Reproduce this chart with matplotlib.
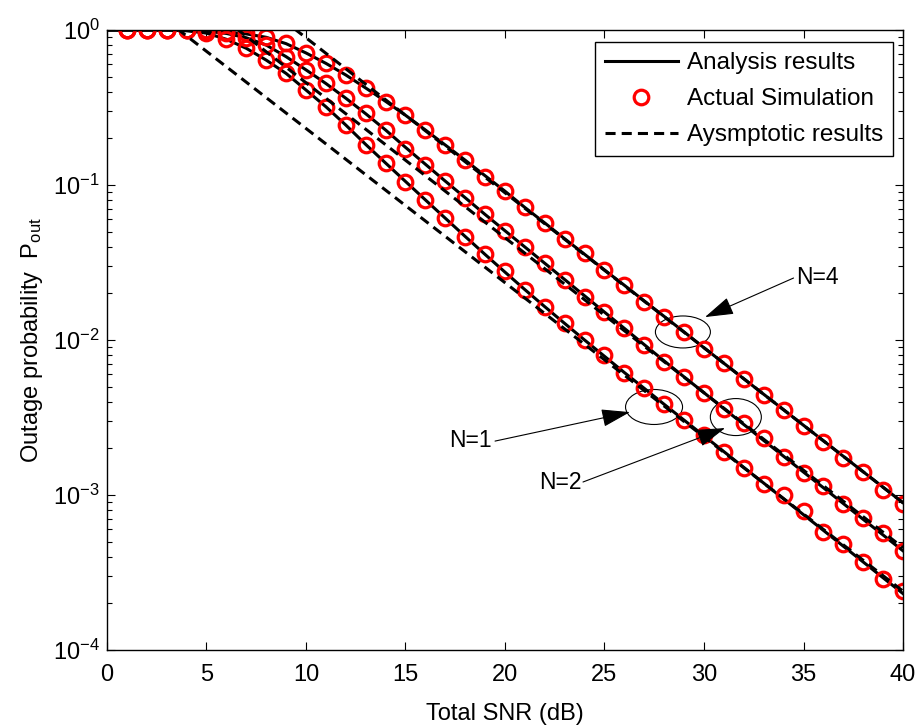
import numpy as np
import matplotlib
matplotlib.use("Agg")
import matplotlib.pyplot as plt
from matplotlib.patches import Ellipse
from matplotlib.transforms import ScaledTranslation

plt.rcParams["font.family"] = ["Liberation Sans", "DejaVu Sans"]
plt.rcParams["mathtext.fontset"] = "custom"
plt.rcParams["mathtext.rm"] = "Liberation Sans"
plt.rcParams["mathtext.it"] = "Liberation Sans:italic"

# total SNR grid (dB)
snr_line = np.arange(0, 41)
snr_sim = np.arange(1, 41)

# analysis results, log10(P_out) at snr_line
ana_n1 = [0, 0, 0, 0, -0.005, -0.02, -0.06, -0.118, -0.194, -0.28, -0.387, -0.495,
          -0.613, -0.738, -0.858, -0.977, -1.096, -1.214, -1.332, -1.448, -1.562,
          -1.675, -1.785, -1.893, -2.0, -2.105, -2.21, -2.312, -2.415, -2.517, -2.618,
          -2.72, -2.822, -2.923, -3.025, -3.127, -3.228, -3.33, -3.432, -3.534, -3.636]
ana_n2 = [0, 0, 0, 0, -0.002, -0.008, -0.022, -0.05, -0.097, -0.172, -0.257, -0.345,
          -0.44, -0.54, -0.645, -0.757, -0.866, -0.975, -1.082, -1.19, -1.295, -1.4,
          -1.505, -1.61, -1.715, -1.82, -1.925, -2.03, -2.135, -2.238, -2.34, -2.443,
          -2.545, -2.648, -2.75, -2.852, -2.953, -3.055, -3.157, -3.258, -3.36]
ana_n4 = [0, 0, 0, 0, -0.002, -0.006, -0.013, -0.025, -0.047, -0.088, -0.148, -0.215,
          -0.29, -0.374, -0.46, -0.55, -0.645, -0.742, -0.84, -0.94, -1.04, -1.145,
          -1.245, -1.347, -1.447, -1.548, -1.647, -1.748, -1.848, -1.948, -2.05, -2.15,
          -2.25, -2.35, -2.45, -2.55, -2.65, -2.75, -2.85, -2.95, -3.05]

# actual simulation, log10(P_out) at snr_sim
sim_n1 = [0, 0, 0, 0, -0.02, -0.06, -0.118, -0.194, -0.28, -0.387, -0.495, -0.613,
          -0.742, -0.86, -0.978, -1.097, -1.215, -1.333, -1.445, -1.555, -1.675,
          -1.785, -1.89, -2.0, -2.097, -2.21, -2.31, -2.41, -2.516, -2.613, -2.72,
          -2.828, -2.93, -3.0, -3.1, -3.237, -3.316, -3.43, -3.544, -3.617]
sim_n2 = [0, 0, 0, 0, -0.007, -0.02, -0.05, -0.097, -0.174, -0.258, -0.344, -0.44,
          -0.537, -0.645, -0.77, -0.871, -0.972, -1.086, -1.19, -1.295, -1.4, -1.505,
          -1.61, -1.72, -1.82, -1.925, -2.03, -2.14, -2.237, -2.344, -2.447, -2.538,
          -2.634, -2.757, -2.86, -2.942, -3.058, -3.15, -3.243, -3.36]
sim_n4 = [0, 0, 0, 0, -0.003, -0.011, -0.021, -0.043, -0.086, -0.15, -0.215, -0.29,
          -0.376, -0.462, -0.548, -0.645, -0.742, -0.839, -0.946, -1.037, -1.145,
          -1.247, -1.35, -1.44, -1.548, -1.645, -1.753, -1.85, -1.946, -2.06, -2.15,
          -2.25, -2.355, -2.45, -2.555, -2.656, -2.763, -2.85, -2.97, -3.058]

# asymptotic results (straight lines), log10(P_out) at the two ends
snr_asy = [0, 40]
asy_n1 = [0.36, -3.62]
asy_n2 = [0.66, -3.34]
asy_n4 = [0.95, -3.05]

fig = plt.figure(figsize=(9.19, 7.25), dpi=100)
ax = fig.add_axes([0.1164, 0.1034, 0.8662, 0.8552])

for ana in (ana_n1, ana_n2, ana_n4):
    ax.plot(snr_line, 10 ** np.array(ana), color="k", lw=2.2)
for sim in (sim_n1, sim_n2, sim_n4):
    ax.plot(snr_sim, 10 ** np.array(sim), ls="none", marker="o", ms=10.5,
            mfc="none", mec="red", mew=2.3)
for asy in (asy_n1, asy_n2, asy_n4):
    ax.plot(snr_asy, 10 ** np.array(asy), color="k", lw=2.2, ls=(0, (3.3, 2.0)))

ax.set_yscale("log")
ax.set_xlim(0, 40)
ax.set_ylim(1e-4, 1)
ax.set_xticks(np.arange(0, 41, 5))
ax.set_yticks([1e-4, 1e-3, 1e-2, 1e-1, 1])
ax.tick_params(which="both", direction="in", top=True, right=True, labelsize=17)
ax.tick_params(which="major", length=6, width=0.8)
ax.tick_params(which="minor", length=3.5, width=0.8)
ax.tick_params(axis="x", pad=10)
ax.tick_params(axis="y", pad=5)
for s in ax.spines.values():
    s.set_linewidth(1.0)

ax.set_xlabel("Total SNR (dB)", fontsize=17, labelpad=12)
ax.set_ylabel("Outage probability  P$_\\mathregular{out}$", fontsize=17, labelpad=6)

# legend proxies
h1, = ax.plot([], [], color="k", lw=2.2)
h2, = ax.plot([], [], ls="none", marker="o", ms=10.5, mfc="none", mec="red", mew=2.3)
h3, = ax.plot([], [], color="k", lw=2.2, ls=(0, (3.3, 2.0)))
leg = ax.legend([h1, h2, h3], ["Analysis results", "Actual Simulation", "Aysmptotic results"],
                loc="upper right", bbox_to_anchor=(0.988, 0.98), fontsize=17.5,
                handlelength=3.0, handletextpad=0.4, labelspacing=0.58, borderpad=0.4,
                borderaxespad=0, fancybox=False, framealpha=1, edgecolor="k")
leg.get_frame().set_linewidth(1.0)


def ring(x, logy, w, h):
    tr = fig.dpi_scale_trans + ScaledTranslation(x, 10 ** logy, ax.transData)
    ax.add_patch(Ellipse((0, 0), w, h, transform=tr, fill=False, ec="k", lw=0.8))


def pointer(label, text_xy, tail_xy, head_xy):
    ax.text(text_xy[0], 10 ** text_xy[1], label, fontsize=16.5, ha="center", va="center")
    ax.annotate("", xy=(head_xy[0], 10 ** head_xy[1]), xytext=(tail_xy[0], 10 ** tail_xy[1]),
                arrowprops=dict(arrowstyle="-|>,head_length=0.9,head_width=0.28",
                                mutation_scale=20, color="k", lw=0.8,
                                shrinkA=0, shrinkB=0))


ring(28.94, -1.948, 0.55, 0.32)
ring(27.49, -2.432, 0.57, 0.35)
ring(31.6, -2.497, 0.51, 0.37)
pointer("N=4", (35.7, -1.594), (34.5, -1.6), (30.05, -1.852))
pointer("N=1", (18.24, -2.645), (19.5, -2.652), (26.28, -2.465))
pointer("N=2", (22.76, -2.916), (23.92, -2.916), (31.06, -2.568))

fig.savefig("out.png", dpi=100)
